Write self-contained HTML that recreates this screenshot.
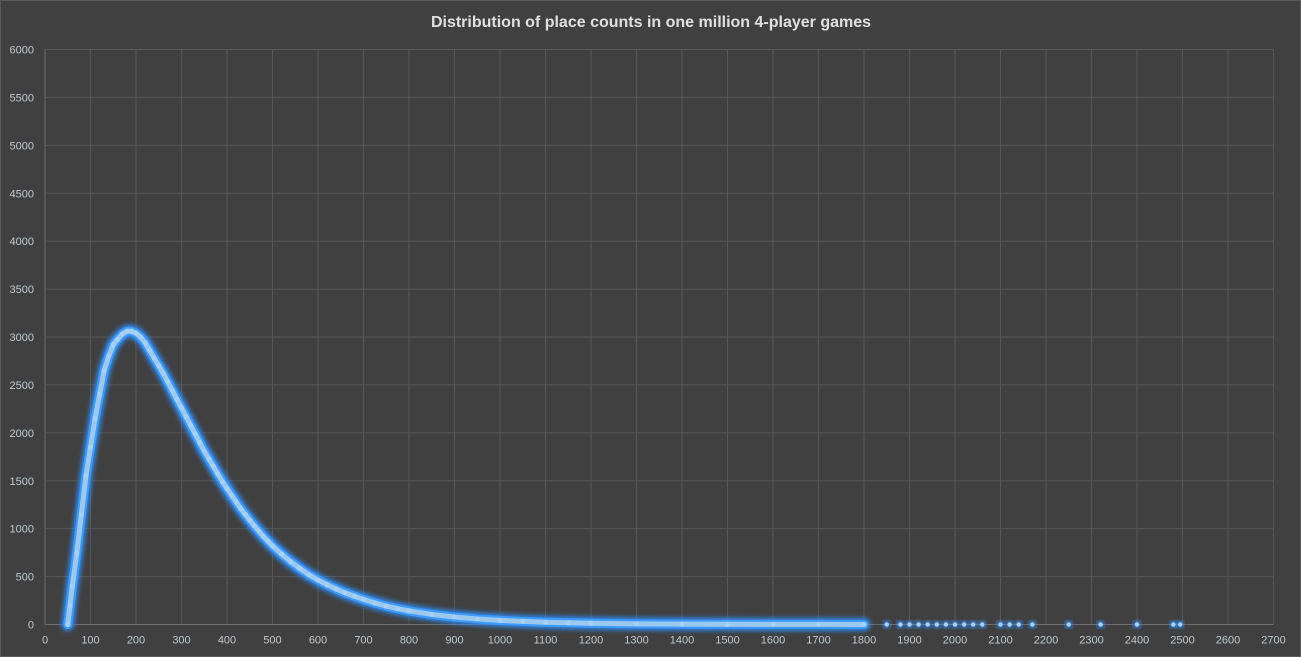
<!DOCTYPE html>
<html><head><meta charset="utf-8"><style>
html,body{margin:0;padding:0;background:#404040;}
svg{display:block;font-family:"Liberation Sans",sans-serif;}
</style></head><body>
<svg id="chart" width="1301" height="657" viewBox="0 0 1301 657">
<defs><filter id="glow" x="-10%" y="-10%" width="120%" height="120%"><feGaussianBlur stdDeviation="2.5"/></filter></defs>
<rect x="0.5" y="0.5" width="1300" height="656" fill="#404040" stroke="#5a5a5a"/>
<text x="651" y="27" text-anchor="middle" font-size="16" font-weight="bold" fill="#e0e0e0">Distribution of place counts in one million 4-player games</text>
<g id="grid"></g><g id="axes"></g><g id="series"></g>
</svg>
<script>
const xVals=[50,55,60,70,80,90,100,110,120,130,140,150,160,170,180,190,200,210,220,230,240,250,260,270,280,290,300,310,320,330,340,350,360,370,380,390,400,410,420,430,440,450,460,470,480,490,500,520,540,560,580,600,620,640,660,680,700,725,750,775,800,850,900,950,1000,1050,1100,1150,1200,1300,1400,1500,1600,1700,1800];
const yVals=[0,200,400,750,1150,1550,1850,2150,2400,2650,2800,2920,2980,3030,3060,3060,3040,3000,2940,2860,2780,2700,2620,2530,2440,2350,2260,2170,2080,1990,1900,1810,1730,1650,1570,1490,1420,1350,1280,1210,1150,1090,1030,975,920,870,820,735,655,585,520,465,415,370,330,295,262,225,192,165,142,105,78,58,43,32,24,18,13,7,4,2,1,1,0];
const tailX=[1850,1880,1900,1920,1940,1960,1980,2000,2020,2040,2060,2100,2120,2140,2170,2250,2320,2400,2480,2495];
const tailY=[0,0,0,0,0,0,0,0,0,0,0,0,0,0,0,0,0,0,0,0];
const xTicks=[0,100,200,300,400,500,600,700,800,900,1000,1100,1200,1300,1400,1500,1600,1700,1800,1900,2000,2100,2200,2300,2400,2500,2600,2700];
const yTicks=[0,500,1000,1500,2000,2500,3000,3500,4000,4500,5000,5500,6000];
const NS='http://www.w3.org/2000/svg';
const X0=45,X1=1273.5,Y0=624.5,Y1=49.5;
const sx=v=>X0+(v/2700)*(X1-X0);
const sy=v=>Y0-(v/6000)*(Y0-Y1);
function mk(tag,attrs,parent){const e=document.createElementNS(NS,tag);for(const k in attrs)e.setAttribute(k,attrs[k]);parent.appendChild(e);return e;}
const grid=document.getElementById('grid'),axes=document.getElementById('axes'),series=document.getElementById('series');
xTicks.forEach(t=>{
  const l=mk('line',{x1:sx(t),x2:sx(t),y1:Y1,y2:Y0,stroke:t===0?'#6e6e6e':'#575757','stroke-width':1},grid);
  
  
  const tx=mk('text',{x:sx(t),y:Y0+19,'text-anchor':'middle','font-size':11,fill:'#c0c8d0'},axes);
  tx.textContent=t;
  
  
});
yTicks.forEach(t=>{
  const l=mk('line',{x1:X0,x2:X1,y1:sy(t),y2:sy(t),stroke:t===0?'#6e6e6e':'#575757','stroke-width':1},grid);
  
  
  const tx=mk('text',{x:34,y:sy(t)+4,'text-anchor':'end','font-size':11,fill:'#c0c8d0'},axes);
  tx.textContent=t;
  
  
});
const pts=xVals.map((x,i)=>sx(x)+','+sy(yVals[i])).join(' ');
const glow=mk('polyline',{points:pts,fill:'none',stroke:'#2f8fff','stroke-width':13,'stroke-linejoin':'round','stroke-linecap':'round',filter:'url(#glow)',opacity:0.9},series);


const band=mk('polyline',{points:pts,fill:'none',stroke:'#3d9bff','stroke-width':9,'stroke-linejoin':'round','stroke-linecap':'round'},series);


const core=mk('polyline',{points:pts,fill:'none',stroke:'#9cc8ee','stroke-width':5,'stroke-linejoin':'round'},series);


xVals.forEach((x,i)=>{
  const c=mk('circle',{cx:sx(x),cy:sy(yVals[i]),r:2.6,fill:'#a8d0f4'},series);
  
  
});
tailX.forEach((x,i)=>{
  const g=mk('circle',{cx:sx(x),cy:sy(tailY[i]),r:3.8,fill:'#2f8fff',filter:'url(#glow)'},series);
  
  
  const c=mk('circle',{cx:sx(x),cy:sy(tailY[i]),r:2.2,fill:'#a8d0f4'},series);
  
  
});
</script>
</body></html>
